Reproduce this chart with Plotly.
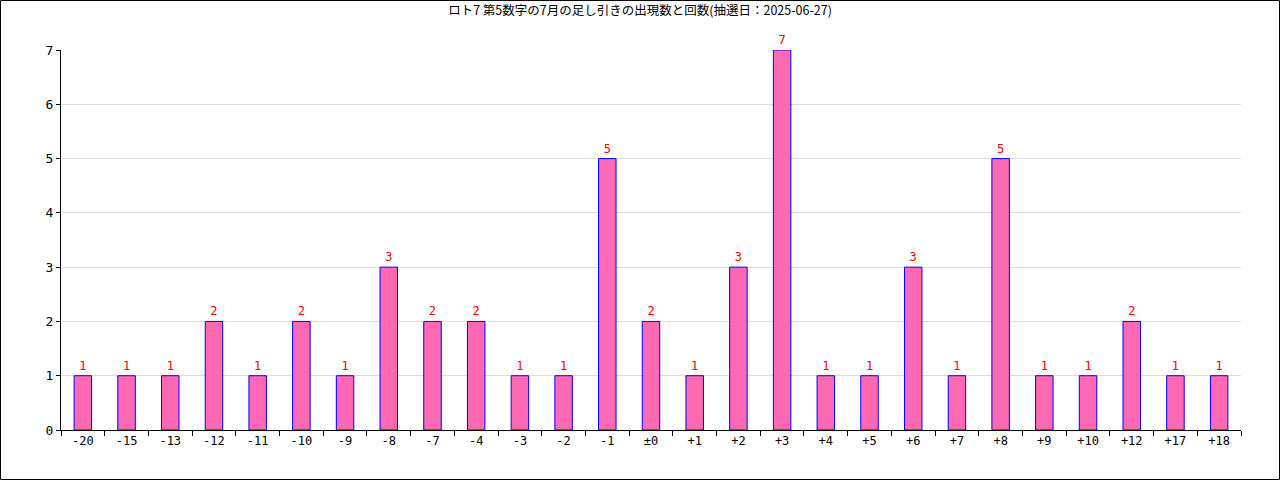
import plotly.graph_objects as go

categories = ["-20", "-15", "-13", "-12", "-11", "-10", "-9", "-8", "-7", "-4", "-3", "-2", "-1", "±0",
              "+1", "+2", "+3", "+4", "+5", "+6", "+7", "+8", "+9", "+10", "+12", "+17", "+18"]
counts = [1, 1, 1, 2, 1, 2, 1, 3, 2, 2, 1, 1, 5, 2, 1, 3, 7, 1, 1, 3, 1, 5, 1, 1, 2, 1, 1]
title = "ロト7 第5数字の7月の足し引きの出現数と回数(抽選日：2025-06-27)"

FONT = "DejaVu Sans Mono, Noto Sans CJK JP, monospace"

fig = go.Figure()
fig.add_trace(go.Bar(
    x=categories, y=counts, width=0.4,
    marker=dict(color="#FF69B4", line=dict(color="blue", width=1)),
    text=[str(c) for c in counts], textposition="outside",
    textfont=dict(color="red", size=12, family=FONT),
    cliponaxis=False,
))

W, H = 1280, 480
l, r, t, b = 61, 39, 50, 50
pw, ph = W - l - r, H - t - b

fig.update_layout(
    width=W, height=H,
    margin=dict(l=l, r=r, t=t, b=b),
    paper_bgcolor="white", plot_bgcolor="white",
    font=dict(family=FONT, size=12, color="black"),
    title=dict(text=title, x=0.5, xanchor="center", y=1 - 11 / H, yanchor="middle",
               font=dict(size=12.5, family="Noto Sans CJK JP, DejaVu Sans Mono")),
    showlegend=False,
    bargap=0.6,
    xaxis=dict(type="category", tickson="boundaries", ticks="outside", ticklen=5,
               tickcolor="black", showline=True, linecolor="black", linewidth=1,
               showgrid=False, tickfont=dict(size=12)),
    yaxis=dict(range=[0, 7], dtick=1, ticks="outside", ticklen=4, tickcolor="black",
               showline=True, linecolor="black", linewidth=1,
               showgrid=True, gridcolor="#dcdcdc", zeroline=False, tickfont=dict(size=13)),
    shapes=[dict(type="rect", xref="paper", yref="paper",
                 x0=(0.5 - l) / pw, x1=(W - 0.5 - l) / pw,
                 y0=-(H - 0.5 - t - ph) / ph, y1=1 + (t - 0.5) / ph,
                 line=dict(color="black", width=1), layer="above")],
)

fig.write_html("out.html", config={"displayModeBar": False},
               post_script="document.body.style.margin='0';document.body.style.overflow='hidden';")
